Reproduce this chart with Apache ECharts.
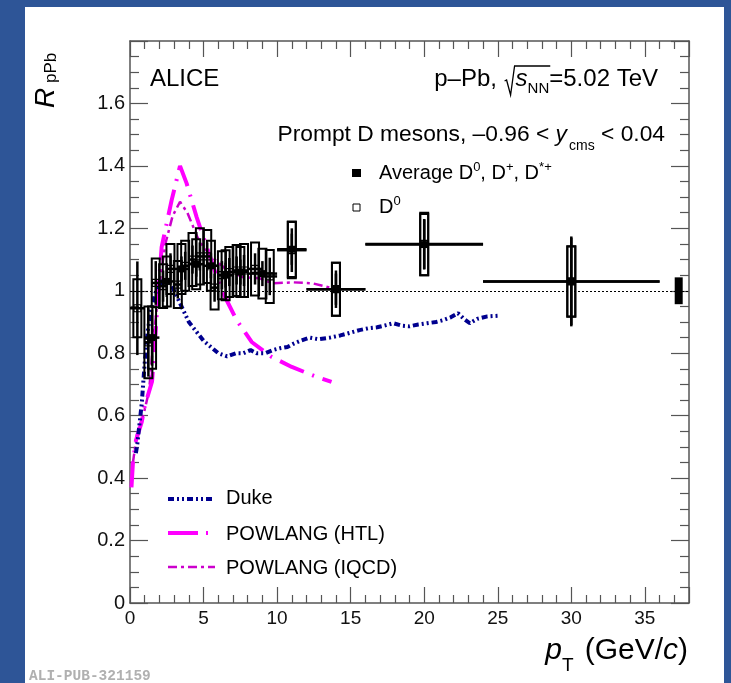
<!DOCTYPE html>
<html>
<head>
<meta charset="utf-8">
<script src="https://cdn.jsdelivr.net/npm/echarts@6/dist/echarts.min.js"></script>
<style>
  html, body { margin: 0; padding: 0; background: #2e5597; }
  #panel { position: absolute; left: 25px; top: 7px; width: 699px; height: 676px; background: #fff; }
  #chart { position: absolute; left: 0; top: 0; width: 731px; height: 683px; }
</style>
</head>
<body>
<div id="panel"></div>
<div id="chart"></div>
<script>
// prompt D0 (open markers), pT bin centres / edges, R_pPb, stat and syst
const d0Pt   = [0.5, 1.25, 1.75, 2.25, 2.75, 3.25, 3.75, 4.25, 4.75, 5.25, 5.75, 6.25, 6.75, 7.25, 7.75, 8.5, 9.5, 11, 14, 20, 30];
const d0Lo   = [0, 1, 1.5, 2, 2.5, 3, 3.5, 4, 4.5, 5, 5.5, 6, 6.5, 7, 7.5, 8, 9, 10, 12, 16, 24];
const d0Hi   = [1, 1.5, 2, 2.5, 3, 3.5, 4, 4.5, 5, 5.5, 6, 6.5, 7, 7.5, 8, 9, 10, 12, 16, 24, 36];
const d0R    = [0.944, 0.835, 1.025, 1.015, 1.07, 1.02, 1.08, 1.10, 1.11, 1.11, 1.01, 1.05, 1.06, 1.065, 1.065, 1.07, 1.046, 1.13, 1.005, 1.15, 1.03];
const d0Stat = [0.15, 0.11, 0.07, 0.05, 0.05, 0.045, 0.045, 0.045, 0.045, 0.045, 0.045, 0.045, 0.045, 0.045, 0.05, 0.05, 0.06, 0.07, 0.06, 0.08, 0.14];
const d0Syst = [0.093, 0.115, 0.078, 0.07, 0.08, 0.075, 0.08, 0.085, 0.09, 0.085, 0.07, 0.077, 0.08, 0.082, 0.085, 0.085, 0.085, 0.09, 0.085, 0.10, 0.113];

// average D0, D+, D*+ (filled markers)
const avgPt   = [1.5, 2.5, 3.5, 4.5, 5.5, 6.5, 7.5, 9, 11, 14, 20, 30];
const avgLo   = [1, 2, 3, 4, 5, 6, 7, 8, 10, 12, 16, 24];
const avgHi   = [2, 3, 4, 5, 6, 7, 8, 10, 12, 16, 24, 36];
const avgR    = [0.85, 1.03, 1.07, 1.085, 1.08, 1.05, 1.06, 1.055, 1.133, 1.005, 1.148, 1.03];
const avgStat = [0.09, 0.05, 0.04, 0.04, 0.04, 0.04, 0.04, 0.04, 0.05, 0.05, 0.08, 0.144];
const avgSyst = [0.1, 0.08, 0.08, 0.08, 0.08, 0.08, 0.08, 0.08, 0.089, 0.085, 0.098, 0.112];

// normalisation uncertainty
const normPt = 37.3;
const normUnc = 0.043;

// model curves
const dukePt = [0.4, 0.5, 0.8, 1.0, 1.2, 1.4, 1.7, 2.0, 2.4, 2.8, 3.2, 3.6, 4.0, 4.5, 5.0, 5.5, 6.0, 6.6, 7.2, 7.7, 8.2, 8.6, 9.2, 9.7, 10.2, 10.7, 11.1, 11.6, 12.2, 12.8, 13.6, 14.3, 15.0, 15.6, 16.2, 16.8, 17.4, 17.9, 18.5, 19.0, 19.6, 20.2, 20.8, 21.3, 21.8, 22.3, 22.7, 23.1, 23.6, 24.3, 25.0];
const dukeR  = [0.48, 0.51, 0.64, 0.77, 0.87, 0.93, 0.99, 1.02, 1.04, 1.02, 0.98, 0.94, 0.90, 0.87, 0.84, 0.82, 0.80, 0.79, 0.80, 0.80, 0.81, 0.80, 0.80, 0.81, 0.816, 0.82, 0.83, 0.84, 0.85, 0.845, 0.85, 0.857, 0.866, 0.874, 0.88, 0.883, 0.89, 0.896, 0.888, 0.886, 0.892, 0.896, 0.90, 0.906, 0.915, 0.928, 0.91, 0.896, 0.91, 0.918, 0.92];
const htlPt = [0.1, 0.2, 0.4, 0.8, 1.0, 1.5, 1.7, 1.9, 2.15, 2.83, 3.4, 3.85, 4.53, 5.0, 5.44, 6.0, 6.46, 7.25, 8.27, 9.63, 11.0, 12.7, 13.7];
const htlR  = [0.37, 0.45, 0.52, 0.58, 0.63, 0.71, 0.84, 0.98, 1.14, 1.29, 1.40, 1.344, 1.236, 1.17, 1.11, 1.03, 0.98, 0.906, 0.836, 0.788, 0.756, 0.724, 0.708];
const iqcdPt = [0.2, 0.5, 0.9, 1.3, 1.6, 2.0, 2.4, 2.9, 3.4, 3.9, 4.6, 5.0, 5.6, 6.6, 7.7, 8.8, 9.7, 11.1, 12.4, 13.8];
const iqcdR  = [0.45, 0.55, 0.60, 0.68, 0.85, 1.02, 1.15, 1.24, 1.285, 1.25, 1.17, 1.14, 1.107, 1.066, 1.043, 1.04, 1.024, 1.027, 1.024, 1.008];

// tick labels
const xTicks = [0, 5, 10, 15, 20, 25, 30, 35];
const yTicks = [0, 0.2, 0.4, 0.6, 0.8, 1, 1.2, 1.4, 1.6];

const FONT = '"Liberation Sans", Arial, sans-serif';
const DUKE = '#00008f';
const HTL = '#ff00ff';
const IQCD = '#cc00cc';
const ASC = 0.81; // baseline offset from text top, as a fraction of font size

const zip = (a, b) => a.map((v, i) => [v, b[i]]);

function pointItems(pt, lo, hi, r, stat, syst) {
  return pt.map((p, i) => [p, r[i], lo[i], hi[i], stat[i], syst[i]]);
}

// one data point: syst box, stat bar, bin-width bar, square marker
function errRender(filled) {
  return function (params, api) {
    const x = api.value(0), y = api.value(1);
    const c = api.coord([x, y]);
    const bt = api.coord([x, y + api.value(5)]);
    const bb = api.coord([x, y - api.value(5)]);
    const st = api.coord([x, y + api.value(4)]);
    const sb = api.coord([x, y - api.value(4)]);
    const l = api.coord([api.value(2), y]);
    const r = api.coord([api.value(3), y]);
    const bw = 8;
    return {
      type: 'group',
      children: [
        { type: 'rect', shape: { x: c[0] - bw / 2, y: bt[1], width: bw, height: bb[1] - bt[1] },
          style: { fill: null, stroke: '#000', lineWidth: 2 } },
        { type: 'line', shape: { x1: c[0], y1: st[1], x2: c[0], y2: sb[1] },
          style: { stroke: '#000', lineWidth: 2.5 } },
        { type: 'line', shape: { x1: l[0], y1: c[1], x2: r[0], y2: c[1] },
          style: { stroke: '#000', lineWidth: 2.5 } },
        { type: 'rect', shape: { x: c[0] - 3.5, y: c[1] - 3.5, width: 7, height: 7 },
          style: filled ? { fill: '#000' } : { fill: null, stroke: '#000', lineWidth: 1.2 } }
      ]
    };
  };
}

const chart = echarts.init(document.getElementById('chart'), null, { renderer: 'canvas' });

const axisCommon = {
  axisLine: { show: true, onZero: false, lineStyle: { color: '#555', width: 1.5 } },
  splitLine: { show: false }
};

// text placed by its baseline
function txt(x, base, text, size, extra) {
  const st = Object.assign({ text: text, fontSize: size, fontFamily: FONT, fill: '#000', verticalAlign: 'top' }, extra || {});
  return { type: 'text', x: x, y: base - ASC * size, z: 100, style: st };
}

// a line of mixed text (sub/superscripts, italics) laid out by measured widths
const mctx = document.createElement('canvas').getContext('2d');
function row(x, base, align, segs) {
  const w = segs.map(s => {
    if (s.gap !== undefined) return s.gap;
    mctx.font = (s.it ? 'italic ' : '') + s.s + 'px ' + FONT;
    return mctx.measureText(s.t).width;
  });
  let cx = align === 'right' ? x - w.reduce((a, b) => a + b, 0) : x;
  const els = [], pos = [];
  segs.forEach((s, i) => {
    pos.push(cx);
    if (s.t) els.push(txt(cx, base + (s.dy || 0), s.t, s.s, s.it ? { fontStyle: 'italic' } : {}));
    cx += w[i];
  });
  return { els: els, pos: pos, end: cx };
}

function legLine(y, color, width, dash) {
  return { type: 'line', z: 100, shape: { x1: 168, y1: y, x2: 215, y2: y },
    style: { stroke: color, lineWidth: width, lineDash: dash } };
}

const energyRow = row(658, 87, 'right', [
  { t: 'p–Pb, ', s: 24 }, { gap: 12 }, { t: 's', s: 24, it: 1 }, { t: 'NN', s: 15, dy: 7 }, { t: '=5.02 TeV', s: 24 }
]);
const g = energyRow.pos[1];
const radical = { type: 'polyline', z: 100,
  shape: { points: [[g + 1, 81], [g + 3, 80], [g + 7, 95], [g + 11, 66], [energyRow.pos[4] + 1, 66]] },
  style: { stroke: '#000', lineWidth: 1.3, fill: null } };

const rapRow = row(665, 142, 'right', [
  { t: 'Prompt D mesons, –0.96 < ', s: 22.8 }, { t: 'y', s: 22.8, it: 1 }, { gap: 2 }, { t: 'cms', s: 14, dy: 8 }, { t: ' < 0.04', s: 22.8 }
]);
const avgRow = row(379, 180, 'left', [
  { t: 'Average D', s: 20 }, { t: '0', s: 13, dy: -9 }, { t: ', D', s: 20 }, { t: '+', s: 13, dy: -9 }, { t: ', D', s: 20 }, { t: '*+', s: 13, dy: -9 }
]);
const d0Row = row(379, 214, 'left', [{ t: 'D', s: 20 }, { t: '0', s: 13, dy: -9 }]);
const xTitle = row(688, 660, 'right', [
  { t: 'p', s: 30, it: 1 }, { t: 'T', s: 19, dy: 12 }, { gap: 11 }, { t: '(GeV/', s: 30 }, { t: 'c', s: 30, it: 1 }, { t: ')', s: 30 }
]);

const option = {
  animation: false,
  backgroundColor: 'transparent',
  grid: { left: 130, right: 42, top: 41, bottom: 80 },
  xAxis: [
    Object.assign({}, axisCommon, {
      type: 'value', min: 0, max: 38, interval: 5, position: 'bottom',
      axisTick: { inside: true, length: 16, lineStyle: { color: '#555', width: 1.2 } },
      minorTick: { show: true, splitNumber: 5, length: 8, lineStyle: { color: '#555', width: 1.2 } },
      axisLabel: { fontSize: 19, fontFamily: FONT, color: '#111', margin: 6, showMaxLabel: false,
        formatter: v => (xTicks.includes(v) ? String(v) : '') }
    }),
    Object.assign({}, axisCommon, {
      type: 'value', min: 0, max: 38, interval: 5, position: 'top',
      axisTick: { inside: true, length: 16, lineStyle: { color: '#555', width: 1.2 } },
      minorTick: { show: true, splitNumber: 5, length: 8, lineStyle: { color: '#555', width: 1.2 } },
      axisLabel: { show: false }
    })
  ],
  yAxis: [
    Object.assign({}, axisCommon, {
      type: 'value', min: 0, max: 1.8, interval: 0.2, position: 'left',
      axisTick: { inside: true, length: 18, lineStyle: { color: '#555', width: 1.2 } },
      minorTick: { show: true, splitNumber: 4, length: 9, lineStyle: { color: '#555', width: 1.2 } },
      axisLabel: { fontSize: 20, fontFamily: FONT, color: '#111', margin: 5, showMaxLabel: false,
        formatter: v => { const t = yTicks.find(k => Math.abs(k - v) < 1e-6); return t === undefined ? '' : String(t); } }
    }),
    Object.assign({}, axisCommon, {
      type: 'value', min: 0, max: 1.8, interval: 0.2, position: 'right',
      axisTick: { inside: true, length: 18, lineStyle: { color: '#555', width: 1.2 } },
      minorTick: { show: true, splitNumber: 4, length: 9, lineStyle: { color: '#555', width: 1.2 } },
      axisLabel: { show: false }
    })
  ],
  series: [
    {
      name: 'unity', type: 'line', data: [], silent: true,
      markLine: { symbol: 'none', silent: true, label: { show: false },
        lineStyle: { color: '#000', width: 1, type: [2, 2] }, data: [{ yAxis: 1 }] }
    },
    {
      name: 'POWLANG (IQCD)', type: 'line', data: zip(iqcdPt, iqcdR), showSymbol: false, z: 3,
      lineStyle: { color: IQCD, width: 2.5, type: [9, 4, 3, 4] }
    },
    {
      name: 'POWLANG (HTL)', type: 'line', data: zip(htlPt, htlR), showSymbol: false, z: 3,
      lineStyle: { color: HTL, width: 4, type: [26, 9, 2, 9] }
    },
    {
      name: 'Duke', type: 'line', data: zip(dukePt, dukeR), showSymbol: false, z: 3,
      lineStyle: { color: DUKE, width: 4, type: [6, 3, 2, 3, 2, 3] }
    },
    {
      name: 'D0', type: 'custom', clip: true, z: 4,
      renderItem: errRender(false),
      data: pointItems(d0Pt, d0Lo, d0Hi, d0R, d0Stat, d0Syst)
    },
    {
      name: 'Average', type: 'custom', clip: true, z: 5,
      renderItem: errRender(true),
      data: pointItems(avgPt, avgLo, avgHi, avgR, avgStat, avgSyst)
    },
    {
      name: 'norm', type: 'custom', clip: true, z: 5,
      renderItem: function (params, api) {
        const t = api.coord([api.value(0), 1 + api.value(1)]);
        const b = api.coord([api.value(0), 1 - api.value(1)]);
        return { type: 'rect', shape: { x: t[0] - 4, y: t[1], width: 8, height: b[1] - t[1] }, style: { fill: '#000' } };
      },
      data: [[normPt, normUnc]]
    }
  ],
  graphic: [
    // y title (rotated, reads upwards)
    { type: 'text', x: 55 - ASC * 28, y: 108, rotation: Math.PI / 2, z: 100,
      style: { text: 'R', fontSize: 28, fontStyle: 'italic', fontFamily: FONT, fill: '#000', verticalAlign: 'top' } },
    { type: 'text', x: 57 - ASC * 17, y: 83, rotation: Math.PI / 2, z: 100,
      style: { text: 'pPb', fontSize: 17, fontFamily: FONT, fill: '#000', verticalAlign: 'top' } },
    txt(150, 87, 'ALICE', 24),
    radical,
    // data legend markers
    { type: 'rect', z: 100, shape: { x: 352, y: 169, width: 9, height: 8 }, style: { fill: '#000' } },
    { type: 'rect', z: 100, shape: { x: 353, y: 204, width: 7, height: 7 }, style: { fill: null, stroke: '#000', lineWidth: 1 } },
    // model legend
    legLine(499, DUKE, 4, [6, 3, 2, 3, 2, 3]),
    txt(226, 505, 'Duke', 20),
    legLine(533, HTL, 4, [30, 8, 2, 8]),
    txt(226, 541, 'POWLANG (HTL)', 20),
    legLine(567, IQCD, 2.5, [9, 4, 3, 4]),
    txt(226, 575, 'POWLANG (IQCD)', 20),
    // publication tag
    txt(29, 681, 'ALI-PUB-321159', 14.5, { fontWeight: 'bold', fontFamily: '"Liberation Mono", "DejaVu Sans Mono", monospace', fill: '#b0b0b0' })
  ].concat(energyRow.els, rapRow.els, avgRow.els, d0Row.els, xTitle.els)
};

chart.setOption(option);
</script>
</body>
</html>
